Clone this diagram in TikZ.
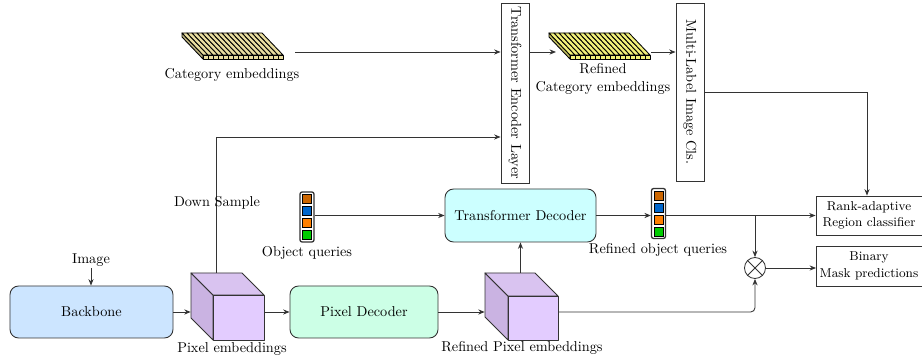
\documentclass[tikz,border=0pt]{standalone}
\usetikzlibrary{arrows.meta,fit,calc}

\definecolor{edge}{HTML}{333333}
\definecolor{bbfill}{HTML}{CCE5FF}
\definecolor{pdfill}{HTML}{CCFFE6}
\definecolor{tdfill}{HTML}{CCFFFF}
\definecolor{cubefront}{HTML}{E3CCFF}
\definecolor{cubetop}{HTML}{D9C3F0}
\definecolor{cubeleft}{HTML}{CAB3E2}
\definecolor{catcol}{HTML}{E8DDA0}
\definecolor{refcol}{HTML}{F2F07A}
\definecolor{qa}{HTML}{CC6600}
\definecolor{qb}{HTML}{0066CC}
\definecolor{qc}{HTML}{FF8000}
\definecolor{qd}{HTML}{00CC00}

\tikzset{
  line/.style={draw=edge, line width=0.6pt},
  arr/.style={line, -{Stealth[length=4.5pt,width=3.6pt]}},
  rbox/.style={draw=edge, line width=0.6pt, rounded corners=6pt, inner sep=0pt, align=center},
  sbox/.style={draw=edge, line width=0.6pt, inner sep=0pt, align=center},
  lbl/.style={inner sep=1pt, align=center},
  outlbl/.style={inner sep=0pt, align=center, font=\fontsize{9}{11.5}\selectfont},
  face/.style={draw=edge, line width=0.6pt, line join=round},
  bar/.style={draw=black, line width=0.6pt, line join=round},
  qframe/.style={draw=edge, line width=0.9pt, rounded corners=1.5pt, fill=white, inner sep=0pt},
  qsq/.style={draw=black, line width=0.4pt},
}

% stack of thin cuboids: #1,#2 = front bottom-left corner, #3 = colour
\newcommand\embstack[3]{%
  \draw[bar, fill=#3!80!black] (#1,#2-4) -- (#1,#2) -- (#1-21,#2-22) -- (#1-21,#2-26) -- cycle;
  \foreach \i in {0,...,15}{%
    \draw[bar, fill=#3] ({#1+5*\i},{#2-4}) -- ({#1+5*\i+5},{#2-4}) -- ({#1+5*\i+5-21},{#2-26}) -- ({#1+5*\i-21},{#2-26}) -- cycle;
    \draw[bar, fill=#3] ({#1+5*\i},{#2-4}) rectangle ({#1+5*\i+5},{#2});
  }%
}

% feature-map cube: front top-left #1,#2, width #3, height #4, depth #5
\newcommand\featcube[5]{%
  \draw[face, fill=cubeleft] (#1,#2) -- ({#1-#5},{#2-#5}) -- ({#1-#5},{#2+#4-#5}) -- (#1,{#2+#4}) -- cycle;
  \draw[face, fill=cubetop] (#1,#2) -- ({#1-#5},{#2-#5}) -- ({#1+#3-#5},{#2-#5}) -- ({#1+#3},#2) -- cycle;
  \draw[face, fill=cubefront] (#1,#2) rectangle ({#1+#3},{#2+#4});
}

% query vector: four coloured cells inside a frame, top-left #1,#2
\newcommand\qcells[2]{%
  \draw[qsq, fill=qa] ({#1+2.5},{#2+2.5}) rectangle ({#1+11.5},{#2+11.5});
  \draw[qsq, fill=qb] ({#1+2.5},{#2+14.5}) rectangle ({#1+11.5},{#2+23.5});
  \draw[qsq, fill=qc] ({#1+2.5},{#2+26.5}) rectangle ({#1+11.5},{#2+35.5});
  \draw[qsq, fill=qd] ({#1+2.5},{#2+38.5}) rectangle ({#1+11.5},{#2+47.5});
}

\begin{document}
\begin{tikzpicture}[x=0.7pt, y=-0.7pt]
\clip (0,0) rectangle (922,362);
\fill[white] (0,0) rectangle (922,362);

% ---- main blocks ----
\node[rbox, fill=bbfill, minimum width=114.1pt, minimum height=36.4pt] (bb) at (91.5,312) {Backbone};
\node[rbox, fill=pdfill, minimum width=103.6pt, minimum height=36.4pt] (pd) at (364,312) {Pixel Decoder};
\node[rbox, fill=tdfill, minimum width=105.7pt, minimum height=37.1pt] (td) at (520.5,215.5) {Transformer Decoder};

\node[sbox, minimum width=19.6pt, minimum height=126pt] (tel) at (515,93) {};
\node[rotate=-90] at (tel.center) {Transformer Encoder Layer};
\node[sbox, minimum width=19.6pt, minimum height=124.6pt] (mlic) at (690,92) {};
\node[rotate=-90] at (mlic.center) {Multi-Label Image Cls.};

% output heads (boxes run on past the right edge)
\node[sbox, minimum width=82.6pt, minimum height=27.3pt] (rank) at (875,215.5) {};
\node[outlbl] at (869,215.5) {Rank-adaptive\\Region classifier};
\node[sbox, minimum width=82.6pt, minimum height=28pt] (bin) at (875.5,266) {};
\node[outlbl] at (869,266) {Binary\\Mask predictions};

\node[circle, draw=edge, line width=0.6pt, minimum size=14.7pt, inner sep=0pt] (ot) at (755,268) {};
\draw[line] (ot.45) -- (ot.225) (ot.135) -- (ot.315);

% ---- embeddings ----
\embstack{203}{59}{catcol}
\node[fit={(182,33)(283,59)}, inner sep=0pt] (ce) {};
\node[lbl] at (232,75) {Category embeddings};

\embstack{570}{59}{refcol}
\node[fit={(549,33)(649,59)}, inner sep=0pt] (rce) {};
\node[lbl] at (603,79) {Refined\\Category embeddings};

% ---- feature cubes ----
\featcube{213}{295}{51}{45}{22}
\node[fit={(191,273)(264,340)}, inner sep=0pt] (pe) {};
\node[lbl] at (232,349) {Pixel embeddings};

\featcube{508}{296}{50}{44}{23}
\node[fit={(485,273)(558,340)}, inner sep=0pt] (rpe) {};
\node[lbl] at (522,348) {Refined Pixel embeddings};

% ---- query vectors ----
\node[qframe, fit={(300,192)(314,242)}] (oq) {};
\qcells{300}{192}
\node[lbl] at (307,253) {Object queries};

\node[qframe, fit={(651.5,188.5)(665.5,238.5)}] (roq) {};
\qcells{651.5}{188.5}
\node[lbl] at (658,250) {Refined object queries};

% ---- connectors ----
\node[lbl] (img) at (91,260) {Image};
\draw[arr] (img.south) -- (img.south |- bb.north);
\draw[arr] (bb.east) -- (bb.east -| pe.west);
\draw[arr] (pe.east |- pd.west) -- (pd.west);
\draw[arr] (pd.east) -- (pd.east -| rpe.west);
\draw[arr] (rpe.north -| td.south) -- (td.south);
\draw[arr, rounded corners=3pt] (rpe.east |- pd.east) -| (ot.south);
\draw[arr] (oq.east |- td.west) -- (td.west);
\draw[arr] (td.east) -- (td.east -| roq.west);
\draw[arr] (roq.east |- rank.west) -- (rank.west);
\draw[arr] (ot.north |- rank.west) -- (ot.north);
\draw[arr] (ot.east) -- (ot.east -| bin.west);
\draw[arr] (mlic.east) -| ([xshift=-5.6pt]rank.north);

\coordinate (dsa) at (216,273);
\coordinate (dsb) at (216,137);
\draw[arr] (dsa) -- (dsb) -- (dsb -| tel.west);
\node[lbl] at (217,203) {Down Sample};

\coordinate (cea) at (295,52);
\draw[arr] (cea) -- (cea -| tel.west);
\coordinate (rcb) at (556,52);
\draw[arr] (tel.east |- cea) -- (rcb);
\coordinate (rca) at (651,52);
\draw[arr] (rca) -- (rca -| mlic.west);
\end{tikzpicture}
\end{document}
